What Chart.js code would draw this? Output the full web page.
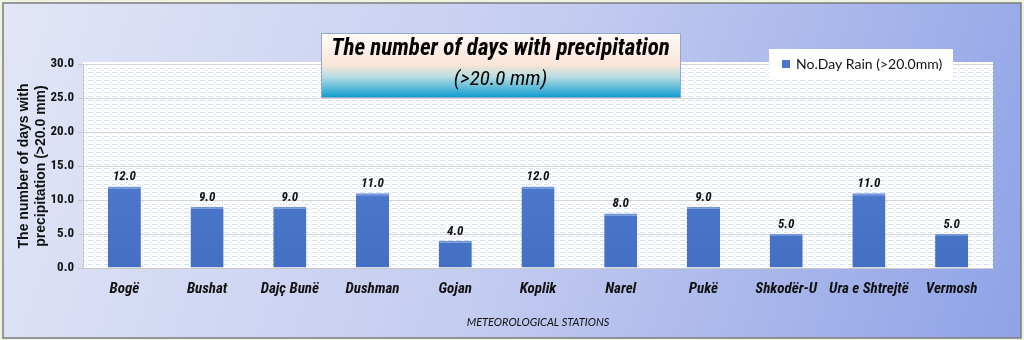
<!DOCTYPE html>
<html>
<head>
<meta charset="utf-8">
<script src="https://cdn.jsdelivr.net/npm/chart.js@4/dist/chart.umd.min.js"></script>
<style>
  html, body { margin: 0; padding: 0; background: #eef3e0; }
  #wrap { width: 1024px; height: 340px; }
</style>
</head>
<body>
<div id="wrap"><canvas id="rainChart" width="1024" height="340"></canvas></div>
<script>
// Estaciones y días con precipitación > 20 mm
const stations = ['Bogë', 'Bushat', 'Dajç Bunë', 'Dushman', 'Gojan', 'Koplik', 'Narel', 'Pukë', 'Shkodër-U', 'Ura e Shtrejtë', 'Vermosh'];
const rainDays = [12.0, 9.0, 9.0, 11.0, 4.0, 12.0, 8.0, 9.0, 5.0, 11.0, 5.0];
const seriesName = 'No.Day Rain (>20.0mm)';
const titleLines = ['The number of days with precipitation', '(>20.0 mm)'];
const yTitleLines = ['The number of days with', 'precipitation (>20.0 mm)'];
const xTitle = 'METEOROLOGICAL STATIONS';

const narrow = '"Liberation Sans Narrow", "Arial Narrow", "Roboto Condensed", "DejaVu Sans Condensed", sans-serif';
const barBlue = '#4a77cb';

// Fondo del marco y patrón de cuadrícula del área del gráfico
const backgroundPlugin = {
    id: 'fondo',
    beforeDraw(chart) {
        const ctx = chart.ctx;
        const w = chart.width, h = chart.height;
        ctx.save();
        ctx.fillStyle = '#eef3e0';
        ctx.fillRect(0, 0, w, h);
        const g = ctx.createLinearGradient(0, 0, w, h);
        g.addColorStop(0, '#e2e6f7');
        g.addColorStop(0.5, '#c4ccf0');
        g.addColorStop(1, '#8ea2e6');
        ctx.fillStyle = g;
        ctx.fillRect(3, 3, w - 6, h - 5);
        ctx.strokeStyle = '#7d7d7d';
        ctx.lineWidth = 1.5;
        ctx.strokeRect(3, 3, w - 6, h - 5);

        const a = chart.chartArea;
        ctx.fillStyle = '#ffffff';
        ctx.fillRect(a.left, a.top - 2, a.right - a.left, a.bottom - a.top + 2);
        // patrón de guiones claros
        const tile = document.createElement('canvas');
        tile.width = 8; tile.height = 4;
        const t = tile.getContext('2d');
        t.fillStyle = '#d6e1f4';
        t.fillRect(0, 0, 5, 1);
        t.fillStyle = '#dfe7f7';
        t.fillRect(6, 1, 1, 2);
        ctx.fillStyle = ctx.createPattern(tile, 'repeat');
        ctx.fillRect(a.left, a.top - 2, a.right - a.left, a.bottom - a.top + 2);
        ctx.restore();
    }
};

// Caja del título con degradado
const titleBoxPlugin = {
    id: 'cajaTitulo',
    afterDraw(chart) {
        const ctx = chart.ctx;
        const x = 321, y = 33, w = 359, h = 64;
        ctx.save();
        const g = ctx.createLinearGradient(0, y, 0, y + h);
        g.addColorStop(0, '#fffbf8');
        g.addColorStop(0.5, '#fbe5d8');
        g.addColorStop(0.68, '#b9dde2');
        g.addColorStop(1, '#129ed0');
        ctx.fillStyle = g;
        ctx.fillRect(x, y, w, h);
        ctx.strokeStyle = '#8fa9cf';
        ctx.lineWidth = 1;
        ctx.strokeRect(x + 0.5, y + 0.5, w, h);
        ctx.fillStyle = '#000';
        ctx.textAlign = 'center';
        ctx.textBaseline = 'middle';
        ctx.font = 'italic bold 23px ' + narrow;
        ctx.fillText(titleLines[0], x + w / 2, y + 16);
        ctx.font = 'italic 21px ' + narrow;
        ctx.fillText(titleLines[1], x + w / 2, y + 47);
        ctx.restore();
    }
};

// Leyenda en caja blanca
const legendBoxPlugin = {
    id: 'cajaLeyenda',
    afterDraw(chart) {
        const ctx = chart.ctx;
        const x = 769, y = 49, w = 184, h = 30;
        ctx.save();
        ctx.fillStyle = '#ffffff';
        ctx.fillRect(x, y, w, h);
        ctx.fillStyle = barBlue;
        ctx.fillRect(x + 13, y + 11, 8, 8);
        ctx.fillStyle = '#111';
        ctx.font = '14px Lato, "Open Sans", sans-serif';
        ctx.textBaseline = 'middle';
        ctx.fillText(chart.data.datasets[0].label, x + 27, y + 15);
        ctx.restore();
    }
};

// Etiquetas de valor sobre cada barra
const valueLabelPlugin = {
    id: 'etiquetas',
    afterDatasetsDraw(chart) {
        const ctx = chart.ctx;
        const meta = chart.getDatasetMeta(0);
        const values = chart.data.datasets[0].data;
        ctx.save();
        ctx.fillStyle = '#111';
        ctx.font = 'italic bold 13px ' + narrow;
        ctx.textAlign = 'center';
        ctx.textBaseline = 'bottom';
        meta.data.forEach((bar, i) => {
            ctx.fillText(values[i].toFixed(1), bar.x, bar.y - 3);
        });
        ctx.restore();
    }
};

const ctx = document.getElementById('rainChart').getContext('2d');
const barFill = ctx.createLinearGradient(0, 64, 0, 268);
barFill.addColorStop(0, '#5583d6');
barFill.addColorStop(1, '#4470c4');

window.rainChart = new Chart(ctx, {
    type: 'bar',
    data: {
        labels: stations,
        datasets: [{
            label: seriesName,
            data: rainDays,
            backgroundColor: barFill,
            borderColor: '#6f96dd',
            borderWidth: { top: 2, left: 0, right: 0, bottom: 0 },
            borderSkipped: false,
            categoryPercentage: 1.0,
            barPercentage: 0.4
        }]
    },
    options: {
        responsive: false,
        animation: false,
        layout: { padding: { left: 4, right: 31, top: 64, bottom: 11 } },
        plugins: {
            legend: { display: false },
            title: { display: false },
            tooltip: { enabled: false }
        },
        scales: {
            x: {
                grid: { display: false, drawTicks: false },
                border: { color: '#c9c9c9' },
                ticks: {
                    padding: 12,
                    color: '#111',
                    font: { family: narrow, size: 15, style: 'italic', weight: 'bold' },
                    maxRotation: 0,
                    autoSkip: false
                },
                title: {
                    display: true,
                    text: xTitle,
                    color: '#111',
                    font: { family: 'Lato, "Open Sans", sans-serif', size: 11, style: 'italic' },
                    padding: { top: 16, bottom: 0 }
                },
                afterFit(scale) { scale.height = 61; }
            },
            y: {
                min: 0,
                max: 30,
                grid: { color: '#d4d4d4', drawTicks: true, tickLength: 5, tickColor: '#c9c9c9' },
                border: { color: '#c9c9c9' },
                ticks: {
                    stepSize: 5,
                    padding: 4,
                    color: '#111',
                    font: { family: narrow, size: 13, weight: 'bold' },
                    callback: v => v.toFixed(1)
                },
                title: {
                    display: true,
                    text: yTitleLines,
                    color: '#111',
                    font: { family: 'Liberation Sans, Arial, sans-serif', size: 14, weight: 'bold', lineHeight: 1.25 },
                    padding: { top: 11, bottom: 6 }
                },
                afterFit(scale) { scale.width = 79; }
            }
        }
    },
    plugins: [backgroundPlugin, valueLabelPlugin, titleBoxPlugin, legendBoxPlugin]
});
</script>
</body>
</html>
